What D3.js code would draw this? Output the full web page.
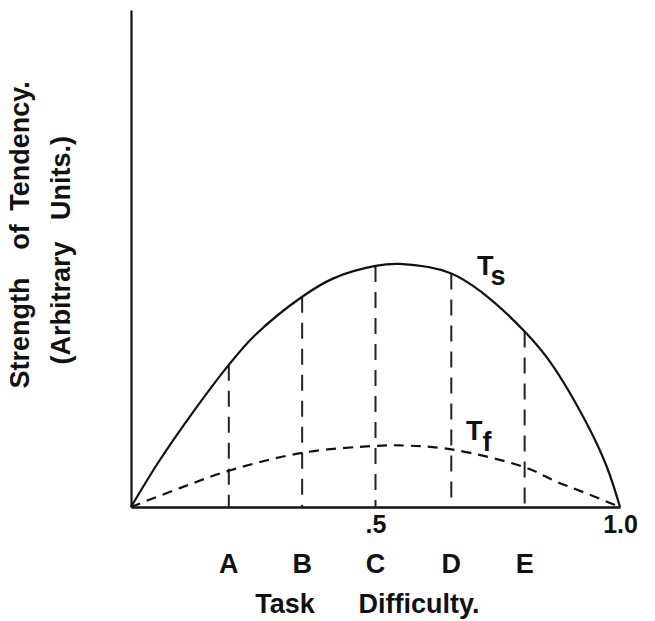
<!DOCTYPE html>
<html>
<head>
<meta charset="utf-8">
<script src="https://cdn.jsdelivr.net/npm/d3@7/dist/d3.min.js"></script>
<style>
  html, body { margin: 0; padding: 0; background: #fff; }
  svg { display: block; }
  text { font-family: "Liberation Sans", Arial, Helvetica, sans-serif; fill: #111; }
</style>
</head>
<body>
<svg id="chart" width="655" height="621"></svg>
<script>
// ---- data ----
const tsX = [0, 0.056, 0.124, 0.2, 0.254, 0.35, 0.414, 0.5, 0.55, 0.655, 0.72, 0.805, 0.857, 0.932, 0.973, 1.0];
const tsY = [0, 0.90, 1.87, 2.86, 3.46, 4.23, 4.60, 4.85, 4.89, 4.70, 4.30, 3.53, 2.92, 1.68, 0.81, 0];
const tfX = [0, 0.1, 0.2, 0.35, 0.5, 0.55, 0.655, 0.805, 0.87, 0.93, 1.0];
const tfY = [0, 0.38, 0.73, 1.09, 1.23, 1.24, 1.16, 0.80, 0.51, 0.28, 0];
const taskLetters = ["A", "B", "C", "D", "E"];
const taskPositions = [0.2, 0.35, 0.5, 0.655, 0.805];
const xTickValues = [0.5, 1.0];
const xTickLabels = [".5", "1.0"];
const xTitleWords = ["Task", "Difficulty."];
const yTitleLine1 = ["Strength", "of", "Tendency."];
const yTitleLine2 = ["(Arbitrary", "Units.)"];

// ---- layout ----
const svg = d3.select("#chart");
const x = d3.scaleLinear().domain([0, 1]).range([131, 620]);
const y = d3.scaleLinear().domain([0, 10]).range([507, 10]);
const ink = "#111";
const fs = 27;

// axes
const xAxis = d3.axisBottom(x)
  .tickValues(xTickValues)
  .tickSize(0)
  .tickPadding(10)
  .tickFormat((d, i) => xTickLabels[i]);
const gx = svg.append("g").attr("transform", `translate(0,${y(0)})`).call(xAxis);
gx.select(".domain").attr("stroke", ink).attr("stroke-width", 2.4);
gx.selectAll(".tick text")
  .attr("font-size", 25).attr("font-weight", "bold")
  .attr("font-family", "Liberation Sans, Arial, sans-serif").attr("fill", ink)
  .attr("dy", "0.65em");

const yAxis = d3.axisLeft(y).tickValues([]).tickSize(0);
const gy = svg.append("g").attr("transform", `translate(${x(0)},0)`).call(yAxis);
gy.select(".domain").attr("stroke", ink).attr("stroke-width", 2.2);

// vertical dashed lines at task positions
const tsInterp = d3.scaleLinear().domain(tsX).range(tsY);
svg.append("g").selectAll("line")
  .data(taskPositions)
  .join("line")
  .attr("x1", d => x(d)).attr("x2", d => x(d))
  .attr("y1", d => y(tsInterp(d))).attr("y2", y(0))
  .attr("stroke", "#222").attr("stroke-width", 2)
  .attr("stroke-dasharray", "16,10");

// curves
const line = d3.line().x(d => x(d[0])).y(d => y(d[1])).curve(d3.curveCatmullRom.alpha(0.5));
svg.append("path")
  .datum(d3.zip(tsX, tsY))
  .attr("d", line)
  .attr("fill", "none").attr("stroke", ink).attr("stroke-width", 2.2);
svg.append("path")
  .datum(d3.zip(tfX, tfY))
  .attr("d", line)
  .attr("fill", "none").attr("stroke", ink).attr("stroke-width", 2.2)
  .attr("stroke-dasharray", "10,7");

// curve labels
const tsLab = svg.append("text").attr("x", 477).attr("y", 275)
  .attr("font-size", fs).attr("font-weight", "bold");
tsLab.append("tspan").text("T");
tsLab.append("tspan").attr("dy", 10).attr("dx", -1).text("s");
const tfLab = svg.append("text").attr("x", 466).attr("y", 440)
  .attr("font-size", fs).attr("font-weight", "bold");
tfLab.append("tspan").text("T");
tfLab.append("tspan").attr("dy", 11).attr("dx", 0).text("f");

// task letters
svg.append("g").selectAll("text")
  .data(taskLetters)
  .join("text")
  .attr("x", (d, i) => x(taskPositions[i]))
  .attr("y", 573)
  .attr("text-anchor", "middle")
  .attr("font-size", fs).attr("font-weight", "bold")
  .text(d => d);

// x title
const xTitleCenters = [285, 419];
svg.append("g").selectAll("text")
  .data(xTitleWords)
  .join("text")
  .attr("x", (d, i) => xTitleCenters[i]).attr("y", 613)
  .attr("text-anchor", "middle")
  .attr("font-size", fs).attr("font-weight", "bold")
  .text(d => d);

// y title (rotated)
const line1Centers = [333, 237, 146];
const line2Centers = [303, 178];
svg.append("g").selectAll("text")
  .data(yTitleLine1)
  .join("text")
  .attr("transform", (d, i) => `translate(29,${line1Centers[i]}) rotate(-90)`)
  .attr("text-anchor", "middle")
  .attr("font-size", fs).attr("font-weight", "bold")
  .text(d => d);
svg.append("g").selectAll("text")
  .data(yTitleLine2)
  .join("text")
  .attr("transform", (d, i) => `translate(70,${line2Centers[i]}) rotate(-90)`)
  .attr("text-anchor", "middle")
  .attr("font-size", fs).attr("font-weight", "bold")
  .text(d => d);
</script>
</body>
</html>
